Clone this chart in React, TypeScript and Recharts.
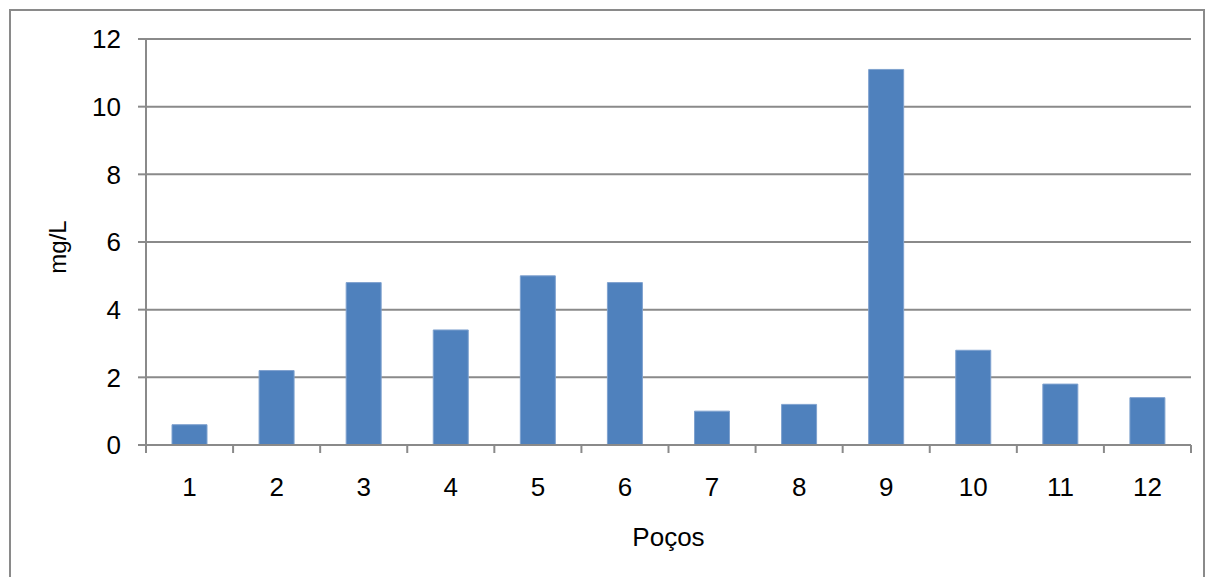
import React from 'react';
import { BarChart, Bar, XAxis, YAxis, CartesianGrid, Label } from 'recharts';

const wells = ['1', '2', '3', '4', '5', '6', '7', '8', '9', '10', '11', '12'];
const concentrations = [0.6, 2.2, 4.8, 3.4, 5.0, 4.8, 1.0, 1.2, 11.1, 2.8, 1.8, 1.4];
const yTicks = [0, 2, 4, 6, 8, 10, 12];

const data = wells.map((well, i) => ({ well, value: concentrations[i] }));

const W = 1209;
const H = 577;
const margin = { top: 39, right: 18, bottom: 0, left: 0 };
const yAxisWidth = 146;
const xAxisHeight = 132;
const bandWidth = (W - yAxisWidth - margin.right) / wells.length;

const font = '"Liberation Sans", Arial, sans-serif';
const axisGray = '#8a8a8a';
const tickFont = 26;

// category label in the middle, tick mark on the band edges
const WellTick = (props: any) => {
  const { x, y, payload, index } = props;
  const left = x - bandWidth / 2;
  const right = x + bandWidth / 2;
  return (
    <g>
      <line x1={left} y1={y} x2={left} y2={y + 8} stroke={axisGray} strokeWidth={2} />
      {index === wells.length - 1 && (
        <line x1={right} y1={y} x2={right} y2={y + 8} stroke={axisGray} strokeWidth={2} />
      )}
      <text x={x} y={y + 51} textAnchor="middle" fill="#000" fontSize={tickFont} fontFamily={font}>
        {payload.value}
      </text>
    </g>
  );
};

const YTitle = (props: any) => {
  const { viewBox } = props;
  const cy = viewBox.y + viewBox.height / 2 + 5;
  return (
    <text
      transform={`translate(66, ${cy}) rotate(-90)`}
      textAnchor="middle"
      fill="#000"
      fontSize={24}
      fontFamily={font}
    >
      mg/L
    </text>
  );
};

const App = () => {
  return (
    <div style={{ position: 'absolute', left: 0, top: 0, width: W, height: H, overflow: 'hidden', background: '#fff' }}>
      <div
        style={{
          position: 'absolute',
          left: 9,
          top: 9,
          width: 1196,
          height: 620,
          border: `2px solid ${axisGray}`,
          boxSizing: 'border-box',
        }}
      />
      <div style={{ position: 'absolute', left: 0, top: 0 }}>
        <BarChart width={W} height={H} data={data} margin={margin} barSize={35}>
          <CartesianGrid vertical={false} stroke={axisGray} strokeWidth={2} />
          <XAxis
            dataKey="well"
            height={xAxisHeight}
            axisLine={{ stroke: axisGray, strokeWidth: 2 }}
            tickLine={false}
            tickSize={0}
            tickMargin={0}
            interval={0}
            tick={<WellTick />}
            label={{
              value: 'Poços',
              position: 'insideBottom',
              offset: 31,
              style: { fontSize: tickFont, fontFamily: font, fill: '#000' },
            }}
          />
          <YAxis
            width={yAxisWidth}
            domain={[0, 12]}
            ticks={yTicks}
            interval={0}
            axisLine={{ stroke: axisGray, strokeWidth: 2 }}
            tickLine={{ stroke: axisGray, strokeWidth: 2 }}
            tickSize={8}
            tickMargin={17}
            tick={{ fontSize: tickFont, fontFamily: font, fill: '#000' }}
          >
            <Label content={<YTitle />} position="insideLeft" />
          </YAxis>
          <Bar dataKey="value" fill="#4f81bd" stroke="#7fa2cf" strokeWidth={1} isAnimationActive={false} />
        </BarChart>
      </div>
    </div>
  );
};

export default App;
